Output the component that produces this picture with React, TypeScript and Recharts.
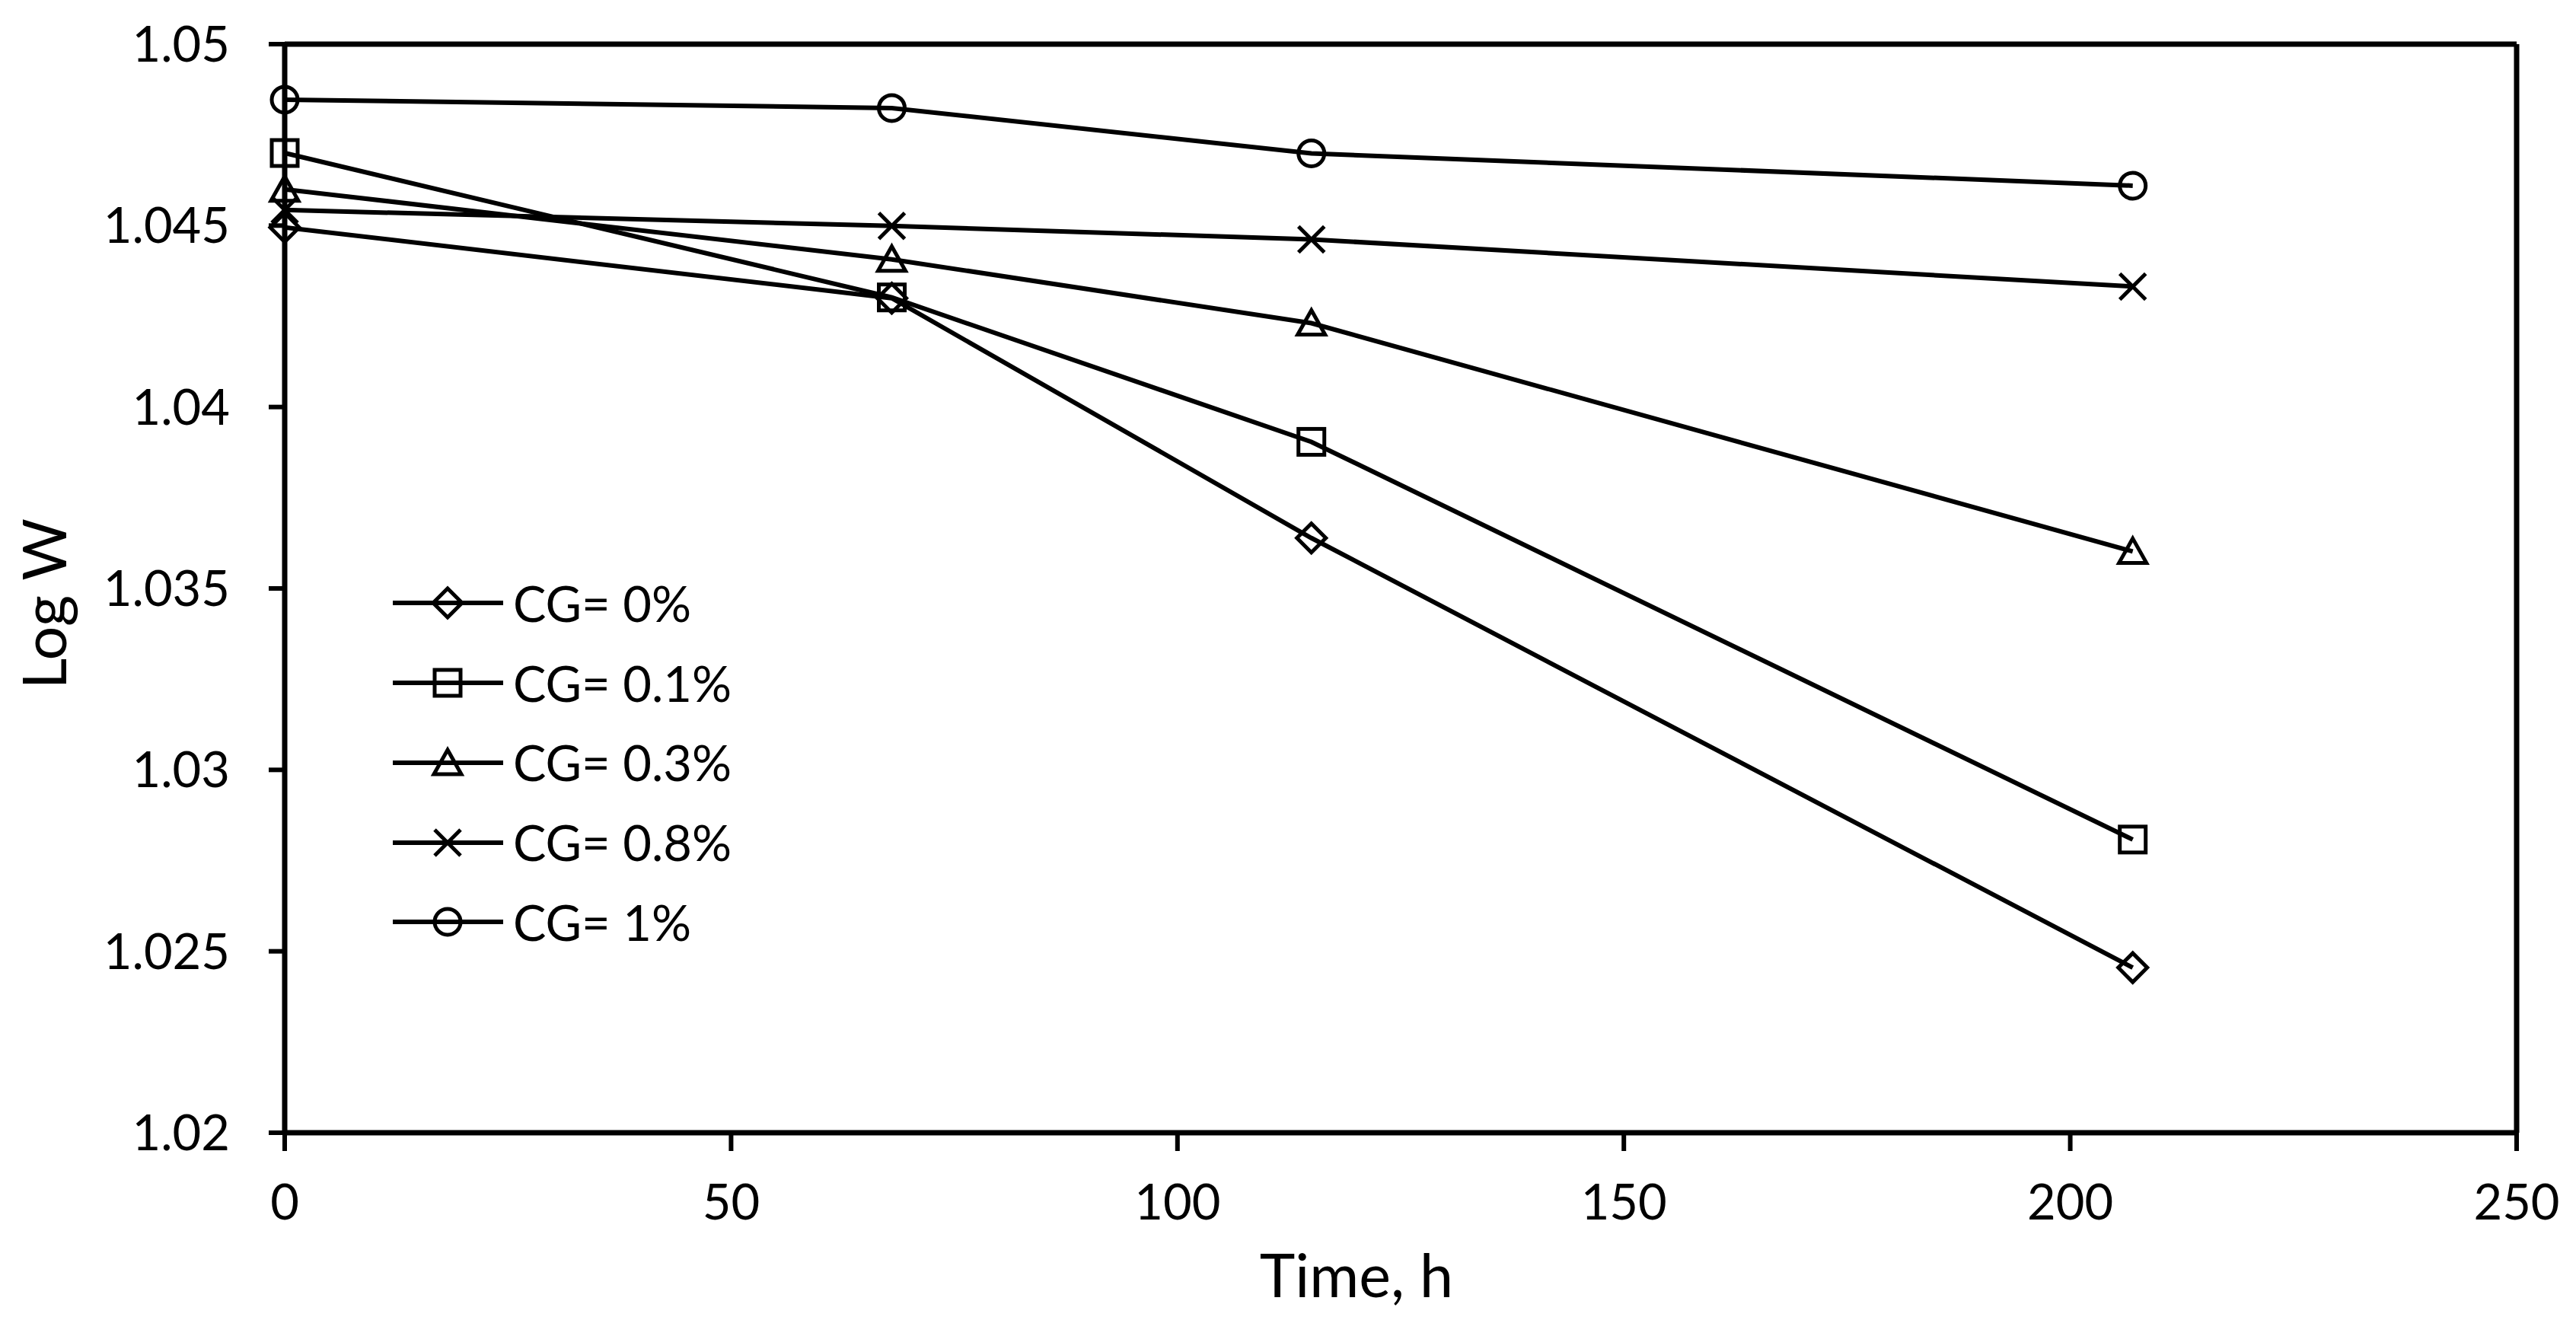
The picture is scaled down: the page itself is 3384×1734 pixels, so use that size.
import {
  LineChart, Line, XAxis, YAxis, Legend, ReferenceLine,
} from "recharts";

// time, h
const TIME = [0, 68, 115, 207];

// Log W for each CG content
const CG_0 = [1.04495, 1.043, 1.03639, 1.02455];
const CG_01 = [1.047, 1.04302, 1.03904, 1.02808];
const CG_03 = [1.046, 1.04407, 1.04231, 1.03602];
const CG_08 = [1.04543, 1.04499, 1.04462, 1.04332];
const CG_1 = [1.04847, 1.04824, 1.04699, 1.0461];

const NAMES = ["CG= 0%", "CG= 0.1%", "CG= 0.3%", "CG= 0.8%", "CG= 1%"];
const KEYS = ["cg0", "cg01", "cg03", "cg08", "cg1"];
const SHAPES = ["diamond", "square", "triangle", "cross", "circle"];

const X_TICKS = [0, 50, 100, 150, 200, 250];
const Y_TICKS = [1.02, 1.025, 1.03, 1.035, 1.04, 1.045, 1.05];

const table = TIME.map((t, i) => ({
  t,
  cg0: CG_0[i],
  cg01: CG_01[i],
  cg03: CG_03[i],
  cg08: CG_08[i],
  cg1: CG_1[i],
}));

const FONT = "Lato, 'Open Sans', sans-serif";
const W = 3376;
const H = 1718;

function Marker({ shape, cx, cy }: { shape: string; cx: number; cy: number }) {
  const common = { fill: "none", stroke: "#000", strokeWidth: 5 };
  if (cx == null || cy == null) return null;
  switch (shape) {
    case "diamond":
      return <path {...common} d={`M${cx} ${cy - 19}L${cx + 19} ${cy}L${cx} ${cy + 19}L${cx - 19} ${cy}Z`} />;
    case "square":
      return <rect {...common} x={cx - 17} y={cy - 17} width={34} height={34} />;
    case "triangle":
      return <path {...common} d={`M${cx} ${cy - 17}L${cx + 18} ${cy + 15}L${cx - 18} ${cy + 15}Z`} />;
    case "cross":
      return (
        <g {...common}>
          <line x1={cx - 17} y1={cy - 17} x2={cx + 17} y2={cy + 17} />
          <line x1={cx - 17} y1={cy + 17} x2={cx + 17} y2={cy - 17} />
        </g>
      );
    default:
      return <circle {...common} cx={cx} cy={cy} r={17} />;
  }
}

function LegendBox() {
  return (
    <div style={{ fontFamily: FONT, fontSize: 65, color: "#000" }}>
      {NAMES.map((n, i) => (
        <div key={n} style={{ display: "flex", alignItems: "center", height: 104.75 }}>
          <svg width={160} height={60} style={{ display: "block" }}>
            <line x1={8} y1={30} x2={153} y2={30} stroke="#000" strokeWidth={6} />
            <Marker shape={SHAPES[i]} cx={80} cy={30} />
          </svg>
          <span style={{ marginLeft: 6, lineHeight: 1 }}>{n}</span>
        </div>
      ))}
    </div>
  );
}

export default function App() {
  return (
    <div style={{ width: W, height: H, position: "relative", background: "#fff" }}>
      <LineChart width={W} height={H} data={table} margin={{ top: 50, right: 78, left: 0, bottom: 0 }}>
        <XAxis
          dataKey="t"
          type="number"
          domain={[0, 250]}
          ticks={X_TICKS}
          height={238}
          tickSize={24}
          tickMargin={44}
          axisLine={{ stroke: "#000", strokeWidth: 7 }}
          tickLine={{ stroke: "#000", strokeWidth: 6 }}
          tick={{ fill: "#000", fontSize: 65, fontFamily: FONT }}
          label={{
            content: ({ viewBox }: any) => (
              <text
                x={viewBox.x + viewBox.width / 2 - 58}
                y={viewBox.y + 216}
                textAnchor="middle"
                fontFamily={FONT}
                fontSize={79}
                fill="#000"
              >
                Time, h
              </text>
            ),
          }}
        />
        <YAxis
          type="number"
          domain={[1.02, 1.05]}
          ticks={Y_TICKS}
          width={366}
          tickSize={21}
          tickMargin={51}
          tickFormatter={(v: number) => String(+v.toFixed(3))}
          axisLine={{ stroke: "#000", strokeWidth: 7 }}
          tickLine={{ stroke: "#000", strokeWidth: 6 }}
          tick={{ fill: "#000", fontSize: 65, fontFamily: FONT }}
          label={{
            content: ({ viewBox }: any) => {
              const x = viewBox.x + 79;
              const y = viewBox.y + viewBox.height / 2 + 20;
              return (
                <text
                  x={x}
                  y={y}
                  transform={`rotate(-90 ${x} ${y})`}
                  textAnchor="middle"
                  fontFamily={FONT}
                  fontSize={79}
                  fill="#000"
                >
                  Log W
                </text>
              );
            },
          }}
        />
        <ReferenceLine y={1.05} stroke="#000" strokeWidth={7} />
        <ReferenceLine x={250} stroke="#000" strokeWidth={7} />
        <Legend
          layout="vertical"
          align="center"
          verticalAlign="middle"
          wrapperStyle={{ left: 500, top: 732, width: "auto" }}
          content={() => <LegendBox />}
        />
        {KEYS.map((k, i) => (
          <Line
            key={k}
            dataKey={k}
            name={NAMES[i]}
            type="linear"
            stroke="#000"
            strokeWidth={6}
            isAnimationActive={false}
            dot={(p: any) => <Marker key={`${k}-${p.index}`} shape={SHAPES[i]} cx={p.cx} cy={p.cy} />}
            activeDot={false}
          />
        ))}
      </LineChart>
    </div>
  );
}
